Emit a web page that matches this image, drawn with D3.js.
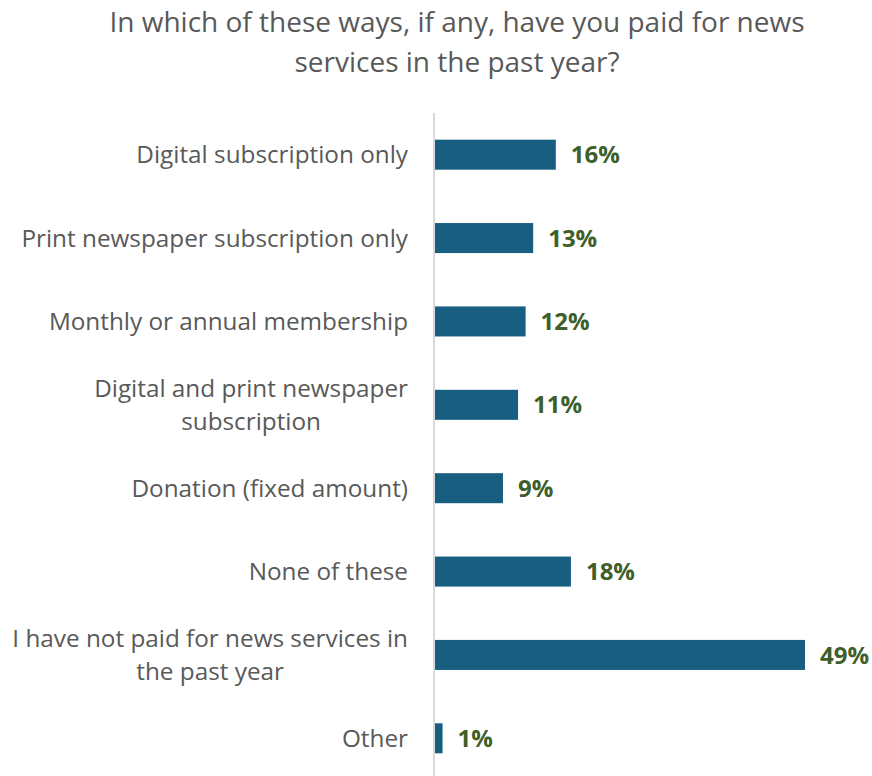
<!DOCTYPE html>
<html>
<head>
<meta charset="utf-8">
<script src="https://cdn.jsdelivr.net/npm/d3@7"></script>
<style>
  html, body { margin: 0; padding: 0; background: #ffffff; }
  svg { display: block; }
</style>
</head>
<body>
<svg id="chart" width="872" height="776"></svg>
<script>
// Survey answers, top to bottom, with their shares (%)
const categories = [
  ["Digital subscription only"],
  ["Print newspaper subscription only"],
  ["Monthly or annual membership"],
  ["Digital and print newspaper", "subscription"],
  ["Donation (fixed amount)"],
  ["None of these"],
  ["I have not paid for news services in", "the past year"],
  ["Other"]
];
const values = [16, 13, 12, 11, 9, 18, 49, 1];
const titleLines = [
  "In which of these ways, if any, have you paid for news",
  "services in the past year?"
];

const FONT = "'Open Sans', sans-serif";
const svg = d3.select("#chart");

const keys = categories.map((c, i) => i);
const y = d3.scaleBand()
  .domain(keys)
  .range([113, 780])
  .paddingInner(0.64)
  .paddingOuter(0.32);

const x = d3.scaleLinear()
  .domain([0, 49])
  .range([435, 805]);

// Title
svg.append("g")
  .selectAll("text")
  .data(titleLines)
  .join("text")
  .attr("x", 457)
  .attr("y", (d, i) => 32 + i * 40)
  .attr("text-anchor", "middle")
  .attr("font-family", FONT)
  .attr("font-weight", 400)
  .attr("font-size", 28)
  .attr("fill", "#595959")
  .text(d => d);

// Bars
svg.append("g")
  .selectAll("rect")
  .data(values)
  .join("rect")
  .attr("x", x(0))
  .attr("y", (d, i) => y(i))
  .attr("width", d => x(d) - x(0))
  .attr("height", y.bandwidth())
  .attr("fill", "#175E80");

// Vertical baseline
svg.append("line")
  .attr("x1", x(0) - 1).attr("x2", x(0) - 1)
  .attr("y1", 113).attr("y2", 776)
  .attr("stroke", "#d9d9d9")
  .attr("stroke-width", 2);

// Value labels
svg.append("g")
  .selectAll("text")
  .data(values)
  .join("text")
  .attr("x", d => x(d) + 15)
  .attr("y", (d, i) => y(i) + y.bandwidth() / 2)
  .attr("dy", "0.36em")
  .attr("font-family", FONT)
  .attr("font-weight", 700)
  .attr("font-size", 24)
  .attr("fill", "#3E5F2A")
  .text(d => d + "%");

// Category labels: block right-aligned at the axis, lines centred within the block
const labelRight = 408;
const cat = svg.append("g")
  .selectAll("text")
  .data(categories)
  .join("text")
  .attr("text-anchor", "middle")
  .attr("font-family", FONT)
  .attr("font-size", 24.3)
  .attr("fill", "#595959");

cat.each(function(d, i) {
  const t = d3.select(this);
  const spans = t.selectAll("tspan")
    .data(d.map((line, j) => ({ line, j, n: d.length })))
    .join("tspan")
    .attr("dy", "0.36em")
    .text(s => s.line);
  let maxW = 0;
  spans.each(function() { maxW = Math.max(maxW, this.getComputedTextLength()); });
  const cx = labelRight - maxW / 2;
  const cy = y(i) + y.bandwidth() / 2;
  spans.attr("x", cx).attr("y", s => cy + (s.j - (s.n - 1) / 2) * 33);
});
</script>
</body>
</html>
